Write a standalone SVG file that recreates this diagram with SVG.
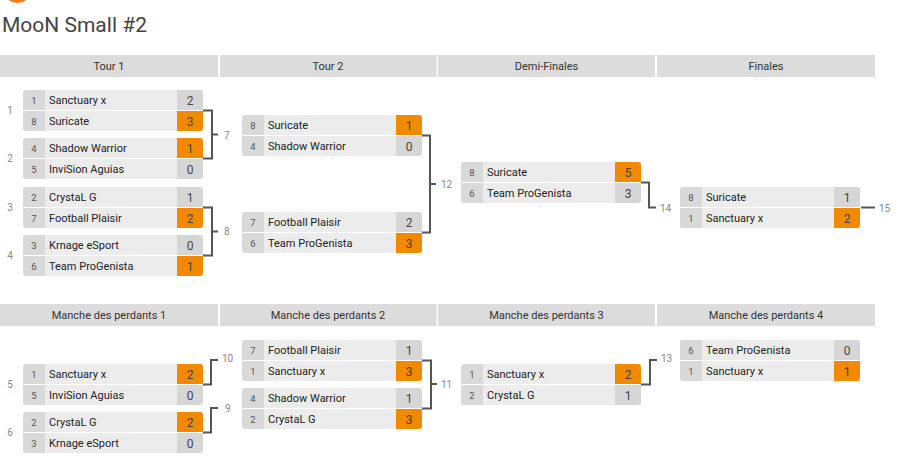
<svg xmlns="http://www.w3.org/2000/svg" width="898" height="471" viewBox="0 0 898 471">
<style>
text{font-family:Roboto,"Liberation Sans",sans-serif}
.title{font-size:21px;fill:#444}
.hdr{fill:#dcdcdc}
.ht{font-size:11px;fill:#333;text-anchor:middle}
.seed{fill:#d9d9d9}
.name{fill:#ececec}
.sc{fill:#d6d6d6}
.win{fill:#f28a00}
.st{font-size:9.5px;fill:#555;text-anchor:middle}
.nt{font-size:11px;fill:#222}
.sct{font-size:12px;fill:#444;text-anchor:middle}
.lbl{font-size:10px;fill:#888}
.mid{text-anchor:middle}
.c{fill:none;stroke:#555;stroke-width:2}
</style>
<defs>
<clipPath id="m"><rect x="0" y="0" width="180" height="41" rx="3"/></clipPath>
<g id="box">
<rect x="0" y="0" width="180" height="41" fill="#fff"/>
<rect class="seed" x="0" y="0" width="22" height="20"/>
<rect class="seed" x="0" y="21" width="22" height="20"/>
<rect class="name" x="22" y="0" width="132" height="20"/>
<rect class="name" x="22" y="21" width="132" height="20"/>
</g>
</defs>
<circle cx="17.5" cy="-12" r="15" fill="#f07c1e"/>
<text class="title" x="2" y="32">MooN Small #2</text>

<g id="headers">
<rect class="hdr" x="0" y="55" width="218" height="22"/>
<rect class="hdr" x="220" y="55" width="216.5" height="22"/>
<rect class="hdr" x="438" y="55" width="217" height="22"/>
<rect class="hdr" x="657" y="55" width="218" height="22"/>
<text class="ht" x="109" y="70">Tour 1</text>
<text class="ht" x="328" y="70">Tour 2</text>
<text class="ht" x="546.5" y="70">Demi-Finales</text>
<text class="ht" x="766" y="70">Finales</text>
<rect class="hdr" x="0" y="304" width="218" height="22"/>
<rect class="hdr" x="220" y="304" width="216.5" height="22"/>
<rect class="hdr" x="438" y="304" width="217" height="22"/>
<rect class="hdr" x="657" y="304" width="218" height="22"/>
<text class="ht" x="109" y="319">Manche des perdants 1</text>
<text class="ht" x="328" y="319">Manche des perdants 2</text>
<text class="ht" x="546.5" y="319">Manche des perdants 3</text>
<text class="ht" x="766" y="319">Manche des perdants 4</text>
</g>

<g id="connectors">
<path class="c" d="M203,110.5 H212 V158.5 H203 M212,134.5 H218"/>
<path class="c" d="M203,207.5 H212 V255.5 H203 M212,231.5 H218"/>
<path class="c" d="M421,135.5 H430 V232.5 H421 M430,184 H436"/>
<path class="c" d="M640,182.5 H649 V207.5 H656"/>
<path class="c" d="M861,207.5 H875"/>
<path class="c" d="M203,384.5 H211 V360 H218"/>
<path class="c" d="M203,432.5 H211 V408 H218"/>
<path class="c" d="M421,360.5 H431 V408.5 H421 M431,384 H437"/>
<path class="c" d="M640,384.5 H650 V360 H657"/>
<text class="lbl" x="224" y="139">7</text>
<text class="lbl" x="224" y="235">8</text>
<text class="lbl" x="441" y="188">12</text>
<text class="lbl" x="660" y="212">14</text>
<text class="lbl" x="879" y="212">15</text>
<text class="lbl" x="222" y="362">10</text>
<text class="lbl" x="225" y="412">9</text>
<text class="lbl" x="441" y="388">11</text>
<text class="lbl" x="661" y="362">13</text>
</g>

<g id="m1" transform="translate(23,90)">
<g clip-path="url(#m)"><use href="#box"/>
<rect class="sc" x="154" y="0" width="26" height="20"/><rect class="win" x="154" y="21" width="26" height="20"/></g>
<text class="st" x="11" y="14">1</text><text class="st" x="11" y="35">8</text>
<text class="nt" x="26" y="14">Sanctuary x</text><text class="nt" x="26" y="35">Suricate</text>
<text class="sct" x="167" y="14.5">2</text><text class="sct" x="167" y="35.5">3</text>
<text class="lbl mid" x="-13" y="24">1</text>
</g>
<g id="m2" transform="translate(23,138)">
<g clip-path="url(#m)"><use href="#box"/>
<rect class="win" x="154" y="0" width="26" height="20"/><rect class="sc" x="154" y="21" width="26" height="20"/></g>
<text class="st" x="11" y="14">4</text><text class="st" x="11" y="35">5</text>
<text class="nt" x="26" y="14">Shadow Warrior</text><text class="nt" x="26" y="35">InviSion Aguias</text>
<text class="sct" x="167" y="14.5">1</text><text class="sct" x="167" y="35.5">0</text>
<text class="lbl mid" x="-13" y="24">2</text>
</g>
<g id="m3" transform="translate(23,187)">
<g clip-path="url(#m)"><use href="#box"/>
<rect class="sc" x="154" y="0" width="26" height="20"/><rect class="win" x="154" y="21" width="26" height="20"/></g>
<text class="st" x="11" y="14">2</text><text class="st" x="11" y="35">7</text>
<text class="nt" x="26" y="14">CrystaL G</text><text class="nt" x="26" y="35">Football Plaisir</text>
<text class="sct" x="167" y="14.5">1</text><text class="sct" x="167" y="35.5">2</text>
<text class="lbl mid" x="-13" y="24">3</text>
</g>
<g id="m4" transform="translate(23,235)">
<g clip-path="url(#m)"><use href="#box"/>
<rect class="sc" x="154" y="0" width="26" height="20"/><rect class="win" x="154" y="21" width="26" height="20"/></g>
<text class="st" x="11" y="14">3</text><text class="st" x="11" y="35">6</text>
<text class="nt" x="26" y="14">Krnage eSport</text><text class="nt" x="26" y="35">Team ProGenista</text>
<text class="sct" x="167" y="14.5">0</text><text class="sct" x="167" y="35.5">1</text>
<text class="lbl mid" x="-13" y="24">4</text>
</g>
<g id="m7" transform="translate(242,115)">
<g clip-path="url(#m)"><use href="#box"/>
<rect class="win" x="154" y="0" width="26" height="20"/><rect class="sc" x="154" y="21" width="26" height="20"/></g>
<text class="st" x="11" y="14">8</text><text class="st" x="11" y="35">4</text>
<text class="nt" x="26" y="14">Suricate</text><text class="nt" x="26" y="35">Shadow Warrior</text>
<text class="sct" x="167" y="14.5">1</text><text class="sct" x="167" y="35.5">0</text>
</g>
<g id="m8" transform="translate(242,212)">
<g clip-path="url(#m)"><use href="#box"/>
<rect class="sc" x="154" y="0" width="26" height="20"/><rect class="win" x="154" y="21" width="26" height="20"/></g>
<text class="st" x="11" y="14">7</text><text class="st" x="11" y="35">6</text>
<text class="nt" x="26" y="14">Football Plaisir</text><text class="nt" x="26" y="35">Team ProGenista</text>
<text class="sct" x="167" y="14.5">2</text><text class="sct" x="167" y="35.5">3</text>
</g>
<g id="m12" transform="translate(461,162)">
<g clip-path="url(#m)"><use href="#box"/>
<rect class="win" x="154" y="0" width="26" height="20"/><rect class="sc" x="154" y="21" width="26" height="20"/></g>
<text class="st" x="11" y="14">8</text><text class="st" x="11" y="35">6</text>
<text class="nt" x="26" y="14">Suricate</text><text class="nt" x="26" y="35">Team ProGenista</text>
<text class="sct" x="167" y="14.5">5</text><text class="sct" x="167" y="35.5">3</text>
</g>
<g id="m14" transform="translate(680,187)">
<g clip-path="url(#m)"><use href="#box"/>
<rect class="sc" x="154" y="0" width="26" height="20"/><rect class="win" x="154" y="21" width="26" height="20"/></g>
<text class="st" x="11" y="14">8</text><text class="st" x="11" y="35">1</text>
<text class="nt" x="26" y="14">Suricate</text><text class="nt" x="26" y="35">Sanctuary x</text>
<text class="sct" x="167" y="14.5">1</text><text class="sct" x="167" y="35.5">2</text>
</g>
<g id="m5" transform="translate(23,364)">
<g clip-path="url(#m)"><use href="#box"/>
<rect class="win" x="154" y="0" width="26" height="20"/><rect class="sc" x="154" y="21" width="26" height="20"/></g>
<text class="st" x="11" y="14">1</text><text class="st" x="11" y="35">5</text>
<text class="nt" x="26" y="14">Sanctuary x</text><text class="nt" x="26" y="35">InviSion Aguias</text>
<text class="sct" x="167" y="14.5">2</text><text class="sct" x="167" y="35.5">0</text>
<text class="lbl mid" x="-13" y="24">5</text>
</g>
<g id="m6" transform="translate(23,412)">
<g clip-path="url(#m)"><use href="#box"/>
<rect class="win" x="154" y="0" width="26" height="20"/><rect class="sc" x="154" y="21" width="26" height="20"/></g>
<text class="st" x="11" y="14">2</text><text class="st" x="11" y="35">3</text>
<text class="nt" x="26" y="14">CrystaL G</text><text class="nt" x="26" y="35">Krnage eSport</text>
<text class="sct" x="167" y="14.5">2</text><text class="sct" x="167" y="35.5">0</text>
<text class="lbl mid" x="-13" y="24">6</text>
</g>
<g id="m10" transform="translate(242,340)">
<g clip-path="url(#m)"><use href="#box"/>
<rect class="sc" x="154" y="0" width="26" height="20"/><rect class="win" x="154" y="21" width="26" height="20"/></g>
<text class="st" x="11" y="14">7</text><text class="st" x="11" y="35">1</text>
<text class="nt" x="26" y="14">Football Plaisir</text><text class="nt" x="26" y="35">Sanctuary x</text>
<text class="sct" x="167" y="14.5">1</text><text class="sct" x="167" y="35.5">3</text>
</g>
<g id="m9" transform="translate(242,388)">
<g clip-path="url(#m)"><use href="#box"/>
<rect class="sc" x="154" y="0" width="26" height="20"/><rect class="win" x="154" y="21" width="26" height="20"/></g>
<text class="st" x="11" y="14">4</text><text class="st" x="11" y="35">2</text>
<text class="nt" x="26" y="14">Shadow Warrior</text><text class="nt" x="26" y="35">CrystaL G</text>
<text class="sct" x="167" y="14.5">1</text><text class="sct" x="167" y="35.5">3</text>
</g>
<g id="m11" transform="translate(461,364)">
<g clip-path="url(#m)"><use href="#box"/>
<rect class="win" x="154" y="0" width="26" height="20"/><rect class="sc" x="154" y="21" width="26" height="20"/></g>
<text class="st" x="11" y="14">1</text><text class="st" x="11" y="35">2</text>
<text class="nt" x="26" y="14">Sanctuary x</text><text class="nt" x="26" y="35">CrystaL G</text>
<text class="sct" x="167" y="14.5">2</text><text class="sct" x="167" y="35.5">1</text>
</g>
<g id="m13" transform="translate(680,340)">
<g clip-path="url(#m)"><use href="#box"/>
<rect class="sc" x="154" y="0" width="26" height="20"/><rect class="win" x="154" y="21" width="26" height="20"/></g>
<text class="st" x="11" y="14">6</text><text class="st" x="11" y="35">1</text>
<text class="nt" x="26" y="14">Team ProGenista</text><text class="nt" x="26" y="35">Sanctuary x</text>
<text class="sct" x="167" y="14.5">0</text><text class="sct" x="167" y="35.5">1</text>
</g>
</svg>
